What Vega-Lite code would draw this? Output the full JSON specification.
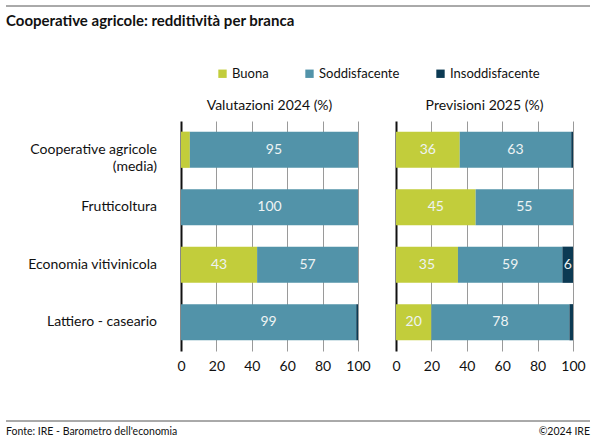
{
  "$schema": "https://vega.github.io/schema/vega-lite/v6.json",
  "padding": {"left": 5, "right": 5, "top": 5, "bottom": 5},
  "config": {
    "view": {"stroke": null},
    "font": "Lato"
  },
  "resolve": {"scale": {"color": "independent"}, "legend": {"color": "independent"}},
  "spacing": 47,
  "vconcat": [
    {
      "spacing": 38,
      "resolve": {"scale": {"color": "independent"}, "legend": {"color": "independent"}},
      "vconcat": [
        {
          "width": 584,
          "height": 15,
          "data": {"values": [{"title": "Cooperative agricole: redditività per branca"}]},
          "layer": [
            {
              "mark": {"type": "rule", "color": "#555555", "strokeWidth": 1},
              "encoding": {"y": {"datum": 1, "type": "quantitative", "scale": {"domain": [0, 1]}, "axis": null}}
            },
            {
              "mark": {"type": "text", "align": "left", "baseline": "middle", "fontSize": 15, "fontWeight": "bold", "color": "#111111", "font": "Lato"},
              "encoding": {
                "x": {"datum": 0, "type": "quantitative", "scale": {"domain": [0, 1]}, "axis": null},
                "y": {"datum": 0, "type": "quantitative", "scale": {"domain": [0, 1]}, "axis": null},
                "text": {"field": "title"}
              }
            }
          ]
        },
        {
          "spacing": 19,
          "resolve": {"scale": {"color": "independent"}, "legend": {"color": "independent"}},
          "hconcat": [
            {
              "width": 151,
              "height": 230,
              "data": {
                "values": [
                  {"branch": "Cooperative agricole (media)"},
                  {"branch": "Frutticoltura"},
                  {"branch": "Economia vitivinicola"},
                  {"branch": "Lattiero - caseario"}
                ]
              },
              "transform": [
                {"calculate": "datum.branch == 'Cooperative agricole (media)' ? 'Cooperative agricole\\n(media)' : datum.branch", "as": "label"}
              ],
              "mark": {"type": "text", "align": "right", "baseline": "middle", "fontSize": 14, "color": "#111111", "font": "Lato", "lineBreak": "\n", "lineHeight": 17},
              "encoding": {
                "x": {"datum": 1, "type": "quantitative", "scale": {"domain": [0, 1]}, "axis": null},
                "y": {
                  "field": "branch",
                  "type": "nominal",
                  "sort": ["Cooperative agricole (media)", "Frutticoltura", "Economia vitivinicola", "Lattiero - caseario"],
                  "scale": {"paddingInner": 0.37, "paddingOuter": 0.185},
                  "axis": null
                },
                "text": {"field": "label"}
              }
            },
            {
              "data": {
                "values": [
                  {"panel": "Valutazioni 2024 (%)", "branch": "Cooperative agricole (media)", "category": "Buona", "value": 5},
                  {"panel": "Valutazioni 2024 (%)", "branch": "Cooperative agricole (media)", "category": "Soddisfacente", "value": 95},
                  {"panel": "Valutazioni 2024 (%)", "branch": "Cooperative agricole (media)", "category": "Insoddisfacente", "value": 0},
                  {"panel": "Valutazioni 2024 (%)", "branch": "Frutticoltura", "category": "Buona", "value": 0},
                  {"panel": "Valutazioni 2024 (%)", "branch": "Frutticoltura", "category": "Soddisfacente", "value": 100},
                  {"panel": "Valutazioni 2024 (%)", "branch": "Frutticoltura", "category": "Insoddisfacente", "value": 0},
                  {"panel": "Valutazioni 2024 (%)", "branch": "Economia vitivinicola", "category": "Buona", "value": 43},
                  {"panel": "Valutazioni 2024 (%)", "branch": "Economia vitivinicola", "category": "Soddisfacente", "value": 57},
                  {"panel": "Valutazioni 2024 (%)", "branch": "Economia vitivinicola", "category": "Insoddisfacente", "value": 0},
                  {"panel": "Valutazioni 2024 (%)", "branch": "Lattiero - caseario", "category": "Buona", "value": 0},
                  {"panel": "Valutazioni 2024 (%)", "branch": "Lattiero - caseario", "category": "Soddisfacente", "value": 99},
                  {"panel": "Valutazioni 2024 (%)", "branch": "Lattiero - caseario", "category": "Insoddisfacente", "value": 1},
                  {"panel": "Previsioni 2025 (%)", "branch": "Cooperative agricole (media)", "category": "Buona", "value": 36},
                  {"panel": "Previsioni 2025 (%)", "branch": "Cooperative agricole (media)", "category": "Soddisfacente", "value": 63},
                  {"panel": "Previsioni 2025 (%)", "branch": "Cooperative agricole (media)", "category": "Insoddisfacente", "value": 1},
                  {"panel": "Previsioni 2025 (%)", "branch": "Frutticoltura", "category": "Buona", "value": 45},
                  {"panel": "Previsioni 2025 (%)", "branch": "Frutticoltura", "category": "Soddisfacente", "value": 55},
                  {"panel": "Previsioni 2025 (%)", "branch": "Frutticoltura", "category": "Insoddisfacente", "value": 0},
                  {"panel": "Previsioni 2025 (%)", "branch": "Economia vitivinicola", "category": "Buona", "value": 35},
                  {"panel": "Previsioni 2025 (%)", "branch": "Economia vitivinicola", "category": "Soddisfacente", "value": 59},
                  {"panel": "Previsioni 2025 (%)", "branch": "Economia vitivinicola", "category": "Insoddisfacente", "value": 6},
                  {"panel": "Previsioni 2025 (%)", "branch": "Lattiero - caseario", "category": "Buona", "value": 20},
                  {"panel": "Previsioni 2025 (%)", "branch": "Lattiero - caseario", "category": "Soddisfacente", "value": 78},
                  {"panel": "Previsioni 2025 (%)", "branch": "Lattiero - caseario", "category": "Insoddisfacente", "value": 2}
                ]
              },
              "transform": [
                {"calculate": "indexof(['Buona','Soddisfacente','Insoddisfacente'], datum.category)", "as": "ord"},
                {"stack": "value", "groupby": ["panel", "branch"], "sort": [{"field": "ord", "order": "ascending"}], "as": ["v0", "v1"]},
                {"calculate": "(datum.v0 + datum.v1) / 2", "as": "mid"}
              ],
              "facet": {
                "column": {
                  "field": "panel",
                  "type": "nominal",
                  "sort": ["Valutazioni 2024 (%)", "Previsioni 2025 (%)"],
                  "header": {"title": null, "labelFontSize": 14, "labelColor": "#111111", "labelFont": "Lato", "labelPadding": 8}
                }
              },
              "spacing": 38,
              "spec": {
                "width": 177,
                "height": 230,
                "encoding": {
                  "y": {
                    "field": "branch",
                    "type": "nominal",
                    "sort": ["Cooperative agricole (media)", "Frutticoltura", "Economia vitivinicola", "Lattiero - caseario"],
                    "scale": {"paddingInner": 0.37, "paddingOuter": 0.185},
                    "axis": null
                  }
                },
                "layer": [
                  {
                    "mark": {"type": "bar"},
                    "encoding": {
                      "x": {
                        "field": "v0",
                        "type": "quantitative",
                        "scale": {"domain": [0, 100], "nice": false},
                        "axis": {
                          "title": null,
                          "values": [0, 20, 40, 60, 80, 100],
                          "grid": true,
                          "gridColor": {"condition": {"test": "datum.value === 0", "value": "#111111"}, "value": "#9a9a9a"},
                          "gridWidth": {"condition": {"test": "datum.value === 0", "value": 2}, "value": 1},
                          "domain": false,
                          "ticks": false,
                          "labelFlush": false,
                          "labelPadding": 8,
                          "labelFontSize": 14,
                          "labelColor": "#111111",
                          "labelFont": "Lato"
                        }
                      },
                      "x2": {"field": "v1"},
                      "color": {
                        "field": "category",
                        "type": "nominal",
                        "scale": {"domain": ["Buona", "Soddisfacente", "Insoddisfacente"], "range": ["#c2cd3b", "#5293a9", "#0c3a53"]},
                        "legend": {
                          "title": null,
                          "orient": "none",
                          "legendX": 35,
                          "legendY": -54,
                          "direction": "horizontal",
                          "symbolType": "square",
                          "symbolSize": 70,
                          "symbolStrokeWidth": 0,
                          "symbolOpacity": 1,
                          "labelFontSize": 13,
                          "labelFont": "Lato",
                          "labelColor": "#111111",
                          "labelOffset": 3,
                          "columnPadding": 34
                        }
                      }
                    }
                  },
                  {
                    "transform": [{"filter": "datum.value >= 6"}],
                    "mark": {"type": "text", "color": "#eef3f4", "fontSize": 14, "font": "Lato"},
                    "encoding": {
                      "x": {
                        "field": "mid",
                        "type": "quantitative",
                        "axis": {
                          "title": null,
                          "values": [0, 20, 40, 60, 80, 100],
                          "grid": true,
                          "gridColor": {"condition": {"test": "datum.value === 0", "value": "#111111"}, "value": "#9a9a9a"},
                          "gridWidth": {"condition": {"test": "datum.value === 0", "value": 2}, "value": 1},
                          "domain": false,
                          "ticks": false,
                          "labelFlush": false,
                          "labelPadding": 8,
                          "labelFontSize": 14,
                          "labelColor": "#111111",
                          "labelFont": "Lato"
                        }
                      },
                      "text": {"field": "value", "type": "quantitative"}
                    }
                  }
                ]
              }
            }
          ]
        }
      ]
    },
    {
      "width": 584,
      "height": 14,
      "data": {"values": [{"left": "Fonte: IRE - Barometro dell'economia", "right": "©2024 IRE"}]},
      "layer": [
        {
          "mark": {"type": "rule", "color": "#555555", "strokeWidth": 1},
          "encoding": {"y": {"datum": 1, "type": "quantitative", "scale": {"domain": [0, 1]}, "axis": null}}
        },
        {
          "mark": {"type": "text", "align": "left", "baseline": "middle", "fontSize": 10.5, "color": "#111111", "font": "Lato"},
          "encoding": {
            "x": {"datum": 0, "type": "quantitative", "scale": {"domain": [0, 1]}, "axis": null},
            "y": {"datum": 0.2, "type": "quantitative", "scale": {"domain": [0, 1]}, "axis": null},
            "text": {"field": "left"}
          }
        },
        {
          "mark": {"type": "text", "align": "right", "baseline": "middle", "fontSize": 10.5, "color": "#111111", "font": "Lato"},
          "encoding": {
            "x": {"datum": 1, "type": "quantitative", "scale": {"domain": [0, 1]}, "axis": null},
            "y": {"datum": 0.2, "type": "quantitative", "scale": {"domain": [0, 1]}, "axis": null},
            "text": {"field": "right"}
          }
        }
      ]
    }
  ]
}
